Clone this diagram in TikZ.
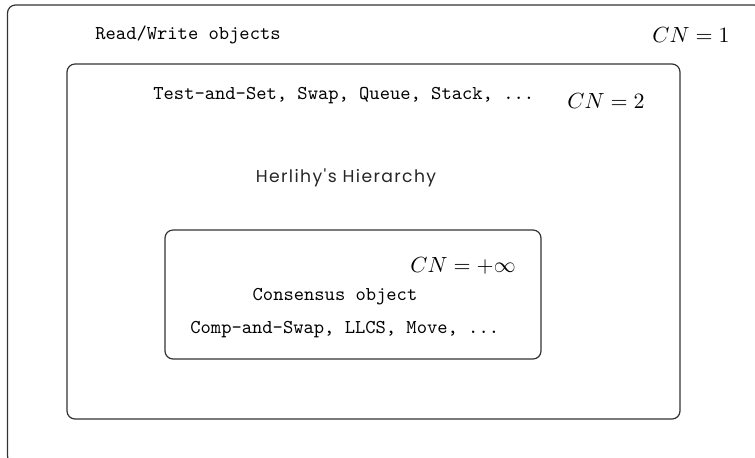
\documentclass[tikz,border=0pt]{standalone}
\usepackage{fontspec}
\newfontfamily\geosans[LetterSpace=8]{Poppins}
\begin{document}
\begin{tikzpicture}[x=0.5pt,y=-0.5pt,
  frame/.style={draw=black!80, line width=0.6pt, rounded corners=4pt},
  tt/.style={font=\fontsize{9.8}{11}\ttfamily, inner sep=0pt},
  cn/.style={font=\fontsize{11}{13}\selectfont, inner sep=0pt},
  title/.style={font=\fontsize{8.6}{10}\geosans, text=black!85, inner sep=0pt}]
  \useasboundingbox (0,0) rectangle (755,457);
  % nested classes of the hierarchy
  \draw[frame] (7.5,5) rectangle (762,464);
  \draw[frame] (67,64) rectangle (680,419);
  \draw[frame] (165,230) rectangle (541,359);
  % consensus number 1
  \node[tt, anchor=west] (rw) at (95,35) {Read/Write objects};
  \node[cn] (cn1) at (691,35) {$CN=1$};
  % consensus number 2
  \node[tt, anchor=west] (ts) at (153,96) {Test-and-Set, Swap, Queue, Stack, ...};
  \node[cn] (cn2) at (606,101) {$CN=2$};
  \node[title] (h) at (346,178) {Herlihy's Hierarchy};
  % universal objects
  \node[cn] (cninf) at (463,266) {$CN=+\infty$};
  \node[tt] (co) at (335,297) {Consensus object};
  \node[tt, anchor=west] (cas) at (190,330) {Comp-and-Swap, LLCS, Move, ...};
\end{tikzpicture}
\end{document}
